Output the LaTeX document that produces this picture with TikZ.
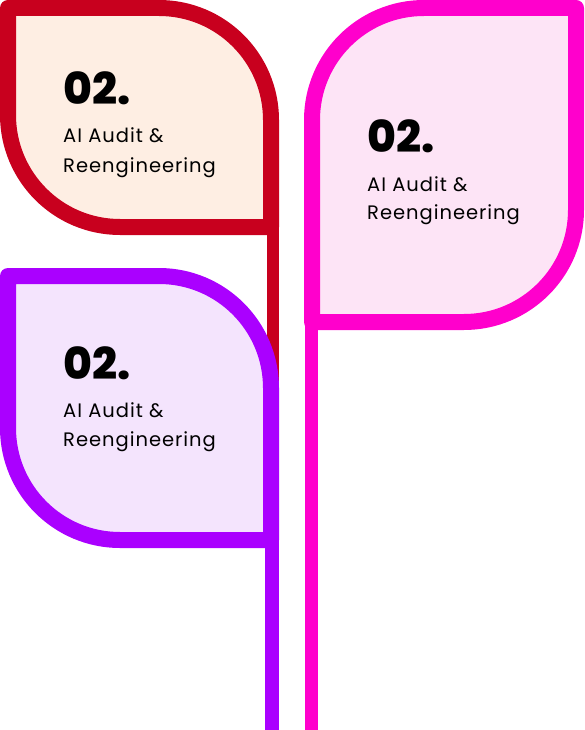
\documentclass[tikz,border=0pt]{standalone}
\usepackage{fontspec}
\setmainfont{Poppins}[LetterSpace=5]
\IfFontExistsTF{Poppins ExtraBold}
  {\newfontfamily\numfont{Poppins ExtraBold}}
  {\newfontfamily\numfont{Poppins}[UprightFont=*Bold]}
\definecolor{leafred}{RGB}{200,0,30}
\definecolor{leafredbg}{RGB}{254,238,227}
\definecolor{leafpink}{RGB}{255,0,204}
\definecolor{leafpinkbg}{RGB}{253,228,246}
\definecolor{leafviolet}{RGB}{170,0,255}
\definecolor{leafvioletbg}{RGB}{244,228,253}
\tikzset{
  leaf/.style={line width=16pt, line join=round},
  stepnum/.style={anchor=base west, inner sep=0pt, font=\numfont\fontsize{44}{44}\selectfont},
  steptext/.style={anchor=base west, inner sep=0pt, font=\fontsize{19.5}{22}\selectfont}
}
\begin{document}
\begin{tikzpicture}[x=1pt, y=1pt]
	\useasboundingbox (0,0) rectangle (584,-730);
	\draw[leaf, leafred, fill=leafredbg] (8,-8) -- (159,-8) arc[start angle=90, end angle=0, radius=112]
		-- (271,-227) -- (120,-227) arc[start angle=270, end angle=180, radius=112] -- cycle;
	\fill[leafred] (267,-220) rectangle (279,-390);
	\node[stepnum] (n1) at (63,-105) {02.};
	\node[steptext] (a1) at (63,-143) {AI Audit \&};
	\node[steptext] (b1) at (63,-172) {Reengineering};
	\draw[leaf, leafpink, fill=leafpinkbg] (312,-322) -- (312,-120) arc[start angle=180, end angle=90, radius=112]
		-- (576,-8) -- (576,-210) arc[start angle=0, end angle=-90, radius=112] -- cycle;
	\fill[leafpink] (305,-315) rectangle (318,-730);
	\node[stepnum] (n2) at (367,-153) {02.};
	\node[steptext] (a2) at (367,-191) {AI Audit \&};
	\node[steptext] (b2) at (367,-219) {Reengineering};
	\draw[leaf, leafviolet, fill=leafvioletbg] (8,-276) -- (159,-276) arc[start angle=90, end angle=0, radius=112]
		-- (271,-540) -- (120,-540) arc[start angle=270, end angle=180, radius=112] -- cycle;
	\fill[leafviolet] (265,-533) rectangle (279,-730);
	\node[stepnum] (n3) at (63,-379) {02.};
	\node[steptext] (a3) at (63,-417) {AI Audit \&};
	\node[steptext] (b3) at (63,-446) {Reengineering};
\end{tikzpicture}
\end{document}
